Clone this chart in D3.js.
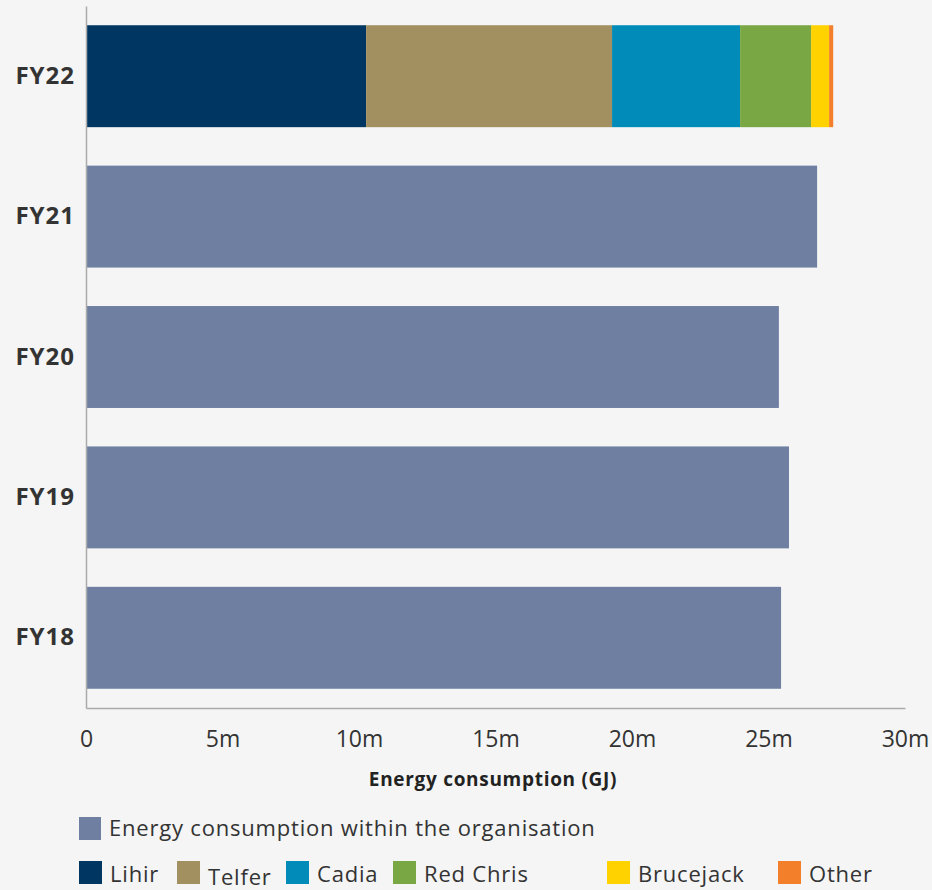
<!DOCTYPE html>
<html>
<head>
<meta charset="utf-8">
<script src="https://cdn.jsdelivr.net/npm/d3@7"></script>
<style>
  html, body { margin: 0; padding: 0; background: #f4f5f4; }
  svg { display: block; font-family: "Open Sans", sans-serif; }
</style>
</head>
<body>
<div id="chart"></div>
<script>
// years, top to bottom
const years = ["FY22", "FY21", "FY20", "FY19", "FY18"];

// total energy consumption (GJ) for FY18-FY21
const totalYears = ["FY21", "FY20", "FY19", "FY18"];
const totalValues = [26.78e6, 25.38e6, 25.75e6, 25.46e6];

// FY22 broken down by site
const sites = ["Lihir", "Telfer", "Cadia", "Red Chris", "Brucejack", "Other"];
const siteValues = [10.26e6, 9.01e6, 4.69e6, 2.60e6, 0.66e6, 0.15e6];

const xTicks = [0, 5e6, 10e6, 15e6, 20e6, 25e6, 30e6];

const COLORS = {
    total: "#6e7fa1",
    "Lihir": "#003762",
    "Telfer": "#a29061",
    "Cadia": "#008bb8",
    "Red Chris": "#79a744",
    "Brucejack": "#ffd200",
    "Other": "#f47f2b"
};

const FONT = "Open Sans, sans-serif";
const width = 932, height = 890;
const plot = {left: 86, right: 905, top: 6, bottom: 708};

const svg = d3.select("#chart")
    .append("svg")
    .attr("width", width)
    .attr("height", height);

const x = d3.scaleLinear()
    .domain([0, 30e6])
    .range([plot.left, plot.right]);

const y = d3.scaleBand()
    .domain(years)
    .range([plot.top, plot.bottom])
    .paddingInner(0.274)
    .paddingOuter(0.137);

// stacked FY22 bar
const stack = d3.stack().keys(sites);
const row = {};
sites.forEach((s, i) => row[s] = siteValues[i]);
const series = stack([row]);

svg.append("g")
    .selectAll("rect")
    .data(series)
    .join("rect")
    .attr("x", d => x(d[0][0]))
    .attr("width", d => x(d[0][1]) - x(d[0][0]))
    .attr("y", y("FY22"))
    .attr("height", y.bandwidth())
    .attr("fill", d => COLORS[d.key]);

// total bars
svg.append("g")
    .selectAll("rect")
    .data(totalYears.map((yr, i) => ({year: yr, value: totalValues[i]})))
    .join("rect")
    .attr("x", x(0))
    .attr("width", d => x(d.value) - x(0))
    .attr("y", d => y(d.year))
    .attr("height", y.bandwidth())
    .attr("fill", COLORS.total);

// x axis
const xAxis = svg.append("g")
    .attr("transform", "translate(0," + plot.bottom + ")")
    .call(d3.axisBottom(x)
        .tickValues(xTicks)
        .tickSize(0)
        .tickPadding(23)
        .tickFormat(d => d === 0 ? "0" : (d / 1e6) + "m"));
xAxis.select(".domain").attr("stroke", "#aaa").attr("stroke-width", 1.5);
xAxis.selectAll("text")
    .attr("font-family", FONT)
    .attr("font-size", 23)
    .attr("fill", "#333");

// y axis
const yAxis = svg.append("g")
    .attr("transform", "translate(" + plot.left + ",0)")
    .call(d3.axisLeft(y).tickSize(0).tickPadding(11).tickSizeOuter(0));
yAxis.select(".domain").attr("stroke", "#aaa").attr("stroke-width", 1.5);
yAxis.selectAll("text")
    .attr("font-family", FONT)
    .attr("font-size", 24)
    .attr("font-weight", "bold")
    .attr("letter-spacing", 1)
    .attr("fill", "#333");

// axis title
svg.append("text")
    .attr("x", 493)
    .attr("y", 786)
    .attr("text-anchor", "middle")
    .attr("font-size", 19)
    .attr("font-weight", "bold")
    .attr("letter-spacing", 0.7)
    .attr("fill", "#222")
    .text("Energy consumption (GJ)");

// legend
const legend1 = svg.append("g");
legend1.append("rect")
    .attr("x", 79).attr("y", 817).attr("width", 22).attr("height", 23)
    .attr("fill", COLORS.total);
legend1.append("text")
    .attr("x", 109).attr("y", 836)
    .attr("font-size", 22)
    .attr("letter-spacing", 0.8)
    .attr("fill", "#333")
    .text("Energy consumption within the organisation");

const legendX = [79, 177, 286, 393, 607, 778];
const legendDy = [0, 3, 0, 0, 0, 0];
const legend2 = svg.append("g")
    .selectAll("g")
    .data(sites)
    .join("g")
    .attr("transform", (d, i) => "translate(" + legendX[i] + ",861)");
legend2.append("rect")
    .attr("width", 23).attr("height", 23)
    .attr("fill", d => COLORS[d]);
legend2.append("text")
    .attr("x", 31)
    .attr("y", (d, i) => 21 + legendDy[i])
    .attr("font-size", 22)
    .attr("letter-spacing", 0.8)
    .attr("fill", "#333")
    .text(d => d);
</script>
</body>
</html>
